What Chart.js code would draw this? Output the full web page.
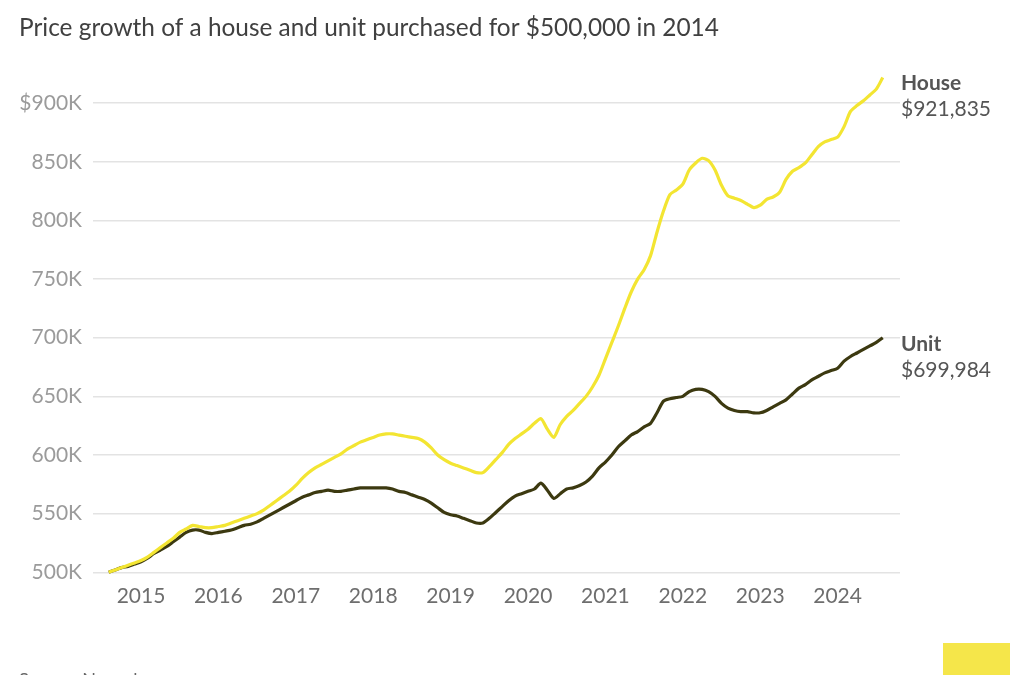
<!DOCTYPE html>
<html>
<head>
<meta charset="utf-8">
<script src="https://cdn.jsdelivr.net/npm/chart.js@4.4.1/dist/chart.umd.min.js"></script>
<style>
html,body{margin:0;padding:0;background:#fff;}
#wrap{position:relative;width:1024px;height:675px;}
canvas{display:block;}
</style>
</head>
<body>
<div id="wrap"><canvas id="c" width="1024" height="675"></canvas></div>
<script>
const titleText = 'Price growth of a house and unit purchased for $500,000 in 2014';
const sourceText = 'Source: Neoval';
const seriesNames = ['House', 'Unit'];
const yearTicks = [2015, 2016, 2017, 2018, 2019, 2020, 2021, 2022, 2023, 2024];
const valueTicks = [500, 550, 600, 650, 700, 750, 800, 850, 900];
const endLabels = ['$921,835', '$699,984'];

const months = [
 '2014-08','2014-09','2014-10','2014-11','2014-12',
 '2015-01','2015-02','2015-03','2015-04','2015-05','2015-06','2015-07','2015-08','2015-09','2015-10','2015-11','2015-12',
 '2016-01','2016-02','2016-03','2016-04','2016-05','2016-06','2016-07','2016-08','2016-09','2016-10','2016-11','2016-12',
 '2017-01','2017-02','2017-03','2017-04','2017-05','2017-06','2017-07','2017-08','2017-09','2017-10','2017-11','2017-12',
 '2018-01','2018-02','2018-03','2018-04','2018-05','2018-06','2018-07','2018-08','2018-09','2018-10','2018-11','2018-12',
 '2019-01','2019-02','2019-03','2019-04','2019-05','2019-06','2019-07','2019-08','2019-09','2019-10','2019-11','2019-12',
 '2020-01','2020-02','2020-03','2020-04','2020-05','2020-06','2020-07','2020-08','2020-09','2020-10','2020-11','2020-12',
 '2021-01','2021-02','2021-03','2021-04','2021-05','2021-06','2021-07','2021-08','2021-09','2021-10','2021-11','2021-12',
 '2022-01','2022-02','2022-03','2022-04','2022-05','2022-06','2022-07','2022-08','2022-09','2022-10','2022-11','2022-12',
 '2023-01','2023-02','2023-03','2023-04','2023-05','2023-06','2023-07','2023-08','2023-09','2023-10','2023-11','2023-12',
 '2024-01','2024-02','2024-03','2024-04','2024-05','2024-06','2024-07','2024-08'
];

// values in $K
const house = [
 500,502,504,506,508,
 510,513,517,521,525,529,534,537,540,539,538,538,
 539,540,542,544,546,548,550,553,557,561,565,569,
 574,580,585,589,592,595,598,601,605,608,611,613,
 615,617,618,618,617,616,615,614,611,606,600,596,
 593,591,589,587,585,585,590,596,602,609,614,618,
 622,627,631,622,615,626,633,638,644,650,658,668,
 682,696,710,725,739,750,758,770,790,808,822,826,
 831,843,849,853,851,843,830,821,819,817,814,811,
 813,818,820,824,835,842,845,849,856,863,867,869,
 871,880,893,898,902,907,912,921.835
];
const unit = [
 500,502,504,505,507,
 509,512,516,519,522,526,530,534,536,536,534,533,
 534,535,536,538,540,541,543,546,549,552,555,558,
 561,564,566,568,569,570,569,569,570,571,572,572,
 572,572,572,571,569,568,566,564,562,559,555,551,
 549,548,546,544,542,542,546,551,556,561,565,567,
 569,571,576,570,563,567,571,572,574,577,582,589,
 594,600,607,612,617,620,624,627,636,646,648,649,
 650,654,656,656,654,650,644,640,638,637,637,636,
 636,638,641,644,647,652,657,660,664,667,670,672,
 674,680,684,687,690,693,696,699.984
];

const monthToYear = s => { const [y, m] = s.split('-').map(Number); return y + (m - 1) / 12; };
const toPoints = vals => vals.map((v, i) => ({ x: monthToYear(months[i]), y: v }));

const FONT = 'Lato, "Open Sans", sans-serif';
const colors = ['#f3e532', '#3c3910'];

const overlay = {
  id: 'overlay',
  afterDraw(chart) {
    const ctx = chart.ctx;
    ctx.save();
    ctx.textBaseline = 'middle';
    ctx.textAlign = 'left';
    ctx.fillStyle = '#404040';
    ctx.font = '24.4px ' + FONT;
    ctx.fillText(titleText, 19, 28);
    const ys = chart.scales.y;
    [house, unit].forEach((vals, i) => {
      const yEnd = ys.getPixelForValue(vals[vals.length - 1]);
      ctx.fillStyle = '#555555';
      ctx.font = 'bold 21px ' + FONT;
      ctx.fillText(seriesNames[i], 901, yEnd + 6);
      ctx.font = '21px ' + FONT;
      ctx.fillText(endLabels[i], 901, yEnd + 32);
    });
    ctx.fillStyle = '#666666';
    ctx.font = '18px ' + FONT;
    ctx.textBaseline = 'top';
    ctx.fillText(sourceText, 19, 671);
    ctx.fillStyle = '#f5e64a';
    ctx.fillRect(943, 643, 67, 32);
    ctx.restore();
  }
};

new Chart(document.getElementById('c'), {
  type: 'line',
  data: {
    datasets: [
      { label: seriesNames[0], data: toPoints(house), borderColor: colors[0], borderWidth: 3.2, pointRadius: 0, tension: 0.25, fill: false },
      { label: seriesNames[1], data: toPoints(unit), borderColor: colors[1], borderWidth: 3.2, pointRadius: 0, tension: 0.25, fill: false }
    ]
  },
  options: {
    responsive: false,
    animation: false,
    devicePixelRatio: 1,
    layout: { padding: { top: 68, left: 0, right: 124, bottom: 51 } },
    plugins: { legend: { display: false }, tooltip: { enabled: false }, title: { display: false } },
    scales: {
      x: {
        type: 'linear',
        min: 2014.38,
        max: 2024.806,
        afterBuildTicks: s => { s.ticks = yearTicks.map(v => ({ value: v })); },
        afterFit: s => { s.height = 40; },
        grid: { display: false, drawTicks: false },
        border: { display: false },
        ticks: { padding: 0, color: '#6e6e6e', font: { family: FONT, size: 21 }, callback: v => String(v), maxRotation: 0, autoSkip: false }
      },
      y: {
        min: 490,
        max: 930,
        afterBuildTicks: s => { s.ticks = valueTicks.map(v => ({ value: v })); },
        afterFit: s => { s.width = 93; },
        grid: { color: '#e3e3e3', lineWidth: 1.5, drawTicks: false },
        border: { display: false },
        ticks: { padding: 11, color: '#9b9b9b', font: { family: FONT, size: 21 }, callback: v => (v === 900 ? '$900K' : v + 'K') }
      }
    }
  },
  plugins: [overlay]
});
</script>
</body>
</html>
